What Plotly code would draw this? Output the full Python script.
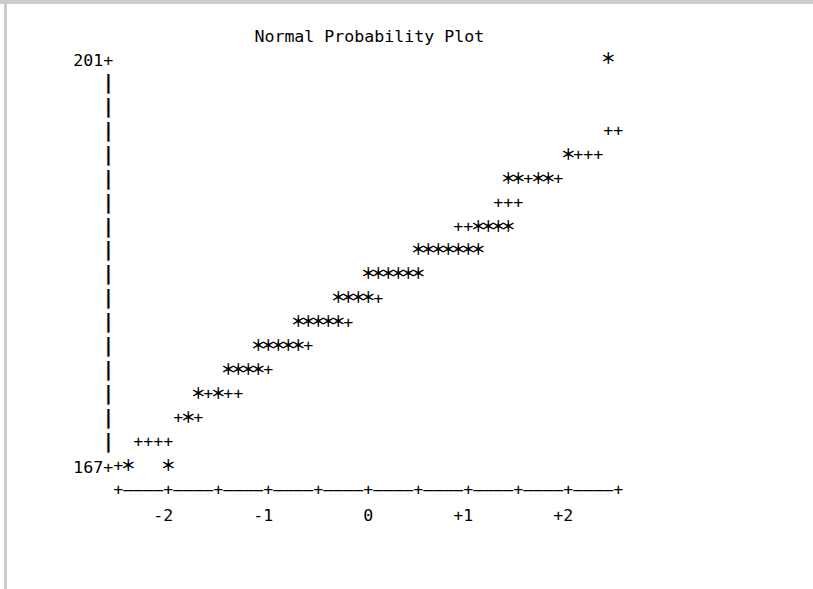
import plotly.graph_objects as go

# ---------------- data ----------------
title_text = "Normal Probability Plot"

# '*' = observed data (normal quantile, value)
star_q = [-2.4, -2.0,
          -1.8,
          -1.7, -1.5,
          -1.4, -1.3, -1.2, -1.1,
          -1.1, -1.0, -0.9, -0.8, -0.7,
          -0.7, -0.6, -0.5, -0.4, -0.3,
          -0.3, -0.2, -0.1, 0.0,
          0.0, 0.1, 0.2, 0.3, 0.4, 0.5,
          0.5, 0.6, 0.7, 0.8, 0.9, 1.0, 1.1,
          1.1, 1.2, 1.3, 1.4,
          1.4, 1.5, 1.7, 1.8,
          2.0,
          2.4]
star_y = [167, 167,
          171,
          173, 173,
          175, 175, 175, 175,
          177, 177, 177, 177, 177,
          179, 179, 179, 179, 179,
          181, 181, 181, 181,
          183, 183, 183, 183, 183, 183,
          185, 185, 185, 185, 185, 185, 185,
          187, 187, 187, 187,
          191, 191, 191, 191,
          193,
          201]

# '+' = reference normal line
ref_q = [-2.5,
         -2.3, -2.2, -2.1, -2.0,
         -1.9, -1.7,
         -1.6, -1.4, -1.3,
         -1.0,
         -0.6,
         -0.2,
         0.1,
         0.9, 1.0,
         1.3, 1.4, 1.5,
         1.6, 1.9,
         2.1, 2.2, 2.3,
         2.4, 2.5]
ref_y = [167,
         169, 169, 169, 169,
         171, 171,
         173, 173, 173,
         175,
         177,
         179,
         181,
         187, 187,
         189, 189, 189,
         191, 191,
         193, 193, 193,
         195, 195]

xtick_vals = [-2, -1, 0, 1, 2]
xtick_text = ["-2\u00a0", "-1\u00a0", "0", "+1\u00a0", "+2\u00a0"]
ytick_vals = [167, 201]
ytick_text = ["167+", "201+"]
axis_marks = [-2.5, -2.0, -1.5, -1.0, -0.5, 0.0, 0.5, 1.0, 1.5, 2.0, 2.5]

# ---------------- layout geometry ----------------
W, H = 813, 589
ML, MR, MT, MB = 0, 0, 0, 98
PX_PER_Q = 100.0
Q0_PX = 368.3
PX_PER_V = 407.0 / 34.0
Y_AXIS_V = 165
COL = 0.1                      # one character column in quantile units
VBAR_Q = axis_marks[0] - COL   # column of the vertical axis

plot_w = W - ML - MR
plot_h = H - MT - MB
x0 = -(Q0_PX - ML) / PX_PER_Q
x1 = x0 + plot_w / PX_PER_Q
y0 = Y_AXIS_V
y1 = y0 + plot_h / PX_PER_V

FONT = "DejaVu Sans Mono"
FS = 16.6
BLACK = "#000000"

fig = go.Figure()

# vertical axis bars
bar_rows = list(range(ytick_vals[0] + 2, ytick_vals[1], 2))
fig.add_trace(go.Scatter(
    x=[VBAR_Q] * len(bar_rows), y=bar_rows, mode="text", text=["|"] * len(bar_rows),
    textposition="middle center", textfont=dict(family=FONT, size=FS + 3, color=BLACK, weight=700),
    cliponaxis=False, hoverinfo="skip", showlegend=False))

# horizontal axis row "+----+----+"
n_cols = int(round((axis_marks[-1] - axis_marks[0]) / COL))
dash_q = [round(axis_marks[0] + i * COL, 2) for i in range(n_cols + 1)
          if round(axis_marks[0] + i * COL, 2) not in axis_marks]
fig.add_trace(go.Scatter(
    x=dash_q, y=[Y_AXIS_V] * len(dash_q), mode="text", text=["\u2013"] * len(dash_q),
    textposition="middle center", textfont=dict(family=FONT, size=FS, color=BLACK),
    cliponaxis=False, hoverinfo="skip", showlegend=False))
fig.add_trace(go.Scatter(
    x=axis_marks, y=[Y_AXIS_V] * len(axis_marks), mode="text", text=["+"] * len(axis_marks),
    textposition="middle center", textfont=dict(family=FONT, size=FS, color=BLACK),
    cliponaxis=False, hoverinfo="skip", showlegend=False))

# reference line '+'
fig.add_trace(go.Scatter(
    x=ref_q, y=ref_y, mode="text", text=["+"] * len(ref_q),
    textposition="middle center", textfont=dict(family=FONT, size=FS, color=BLACK),
    cliponaxis=False, hoverinfo="skip", showlegend=False))

# data '*'
fig.add_trace(go.Scatter(
    x=star_q, y=star_y, mode="text", text=["\uff0a"] * len(star_q),
    textposition="middle center", textfont=dict(family="Noto Sans CJK JP", size=15.5, color=BLACK, weight=700),
    cliponaxis=False, hoverinfo="skip", showlegend=False))

# page frame (grey border at top and left)
fig.add_shape(type="rect", xref="paper", yref="paper", x0=-ML / plot_w, x1=1 + MR / plot_w,
              y0=1 - 4 / plot_h, y1=1 + MT / plot_h, fillcolor="#cccccc", line_width=0, layer="below")
fig.add_shape(type="rect", xref="paper", yref="paper", x0=4 / plot_w, x1=7 / plot_w,
              y0=-MB / plot_h, y1=1 - 4 / plot_h, fillcolor="#cccccc", line_width=0, layer="below")

fig.update_layout(
    width=W, height=H,
    margin=dict(l=ML, r=MR, t=MT, b=MB, pad=0),
    paper_bgcolor="white", plot_bgcolor="white",
    showlegend=False,
    title=dict(text=title_text, x=(Q0_PX + 1) / W, xanchor="center", xref="container",
               y=1 - 36 / H, yanchor="middle", yref="container",
               font=dict(family=FONT, size=FS, color=BLACK)),
    xaxis=dict(range=[x0, x1], showgrid=False, zeroline=False, showline=False,
               tickmode="array", tickvals=xtick_vals, ticktext=xtick_text,
               ticks="outside", ticklen=9, tickcolor="rgba(0,0,0,0)",
               tickfont=dict(family=FONT, size=FS, color=BLACK), fixedrange=True),
    yaxis=dict(range=[y0, y1], showgrid=False, zeroline=False, showline=False,
               anchor="free", position=((axis_marks[0] - COL / 2 - x0) * PX_PER_Q) / plot_w,
               tickmode="array", tickvals=ytick_vals, ticktext=ytick_text, ticks="",
               tickfont=dict(family=FONT, size=FS, color=BLACK), fixedrange=True),
)

fig.write_html("out.html", config={"displayModeBar": False},
               post_script="document.body.style.margin='0';")
